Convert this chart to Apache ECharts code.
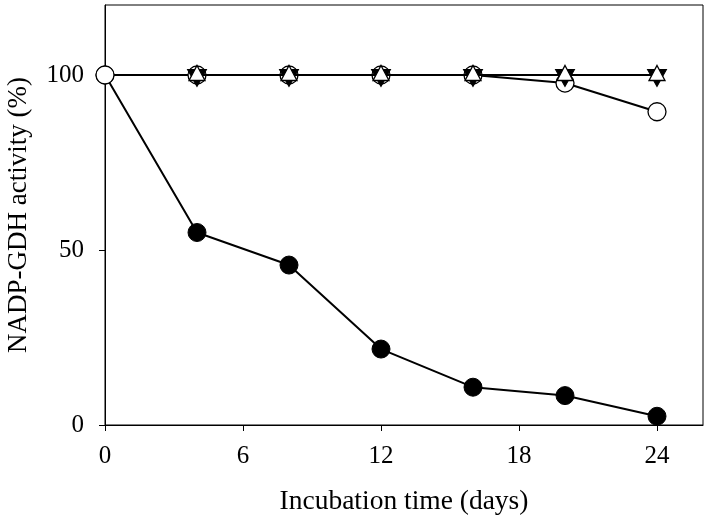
<!DOCTYPE html>
<html><head><meta charset="utf-8">
<script src="https://cdn.jsdelivr.net/npm/echarts@6/dist/echarts.min.js"></script>
<style>html,body{margin:0;padding:0;background:#fff}#c{width:710px;height:524px}</style>
</head><body><div id="c"></div>
<script>
var days = [0, 4, 8, 12, 16, 20, 24];
var filledCircle = [100, 55, 45.7, 21.7, 10.8, 8.4, 2.5];
var openCircle = [100, 100, 100, 100, 100, 97.7, 89.5];
var triDays = [4, 8, 12, 16, 20, 24];
var downTri = [100, 100, 100, 100, 100, 100];
var upTri = [100, 100, 100, 100, 100, 100];
var xTicks = [0, 6, 12, 18, 24];
var yTicks = [0, 50, 100];

function pairs(xs, ys) { return xs.map(function (x, i) { return [x, ys[i]]; }); }
var font = 'Liberation Serif';
var chart = echarts.init(document.getElementById('c'));
chart.setOption({
  animation: false,
  grid: { left: 105, right: 7, top: 5, bottom: 99, show: true, borderColor: '#000', borderWidth: 1,
          containLabel: false, outerBoundsMode: 'none' },
  xAxis: {
    type: 'value', min: 0, max: 26,
    name: 'Incubation time (days)', nameLocation: 'middle', nameGap: 63,
    nameTextStyle: { fontFamily: font, fontSize: 27.5, color: '#000' },
    axisLine: { show: true, onZero: false, lineStyle: { color: '#000', width: 1 } },
    axisTick: { show: true, length: 6, customValues: xTicks, lineStyle: { color: '#000' } },
    axisLabel: { customValues: xTicks, margin: 19, fontFamily: font, fontSize: 25, color: '#000' },
    splitLine: { show: false }
  },
  yAxis: {
    type: 'value', min: 0, max: 120,
    name: 'NADP-GDH activity (%)', nameLocation: 'middle', nameGap: 73,
    nameTextStyle: { fontFamily: font, fontSize: 27, color: '#000' },
    axisLine: { show: true, onZero: false, lineStyle: { color: '#000', width: 1 } },
    axisTick: { show: true, length: 6, customValues: yTicks, lineStyle: { color: '#000' } },
    axisLabel: { customValues: yTicks, margin: 21, fontFamily: font, fontSize: 25, color: '#000' },
    splitLine: { show: false }
  },
  series: [
    { type: 'line', data: pairs(days, filledCircle), symbol: 'circle', symbolSize: 18,
      lineStyle: { color: '#000', width: 2 }, itemStyle: { color: '#000', borderColor: '#000', borderWidth: 1 }, z: 2 },
    { type: 'line', data: pairs(days, openCircle), symbol: 'circle', symbolSize: 18,
      lineStyle: { color: '#000', width: 2 }, itemStyle: { color: '#fff', borderColor: '#000', borderWidth: 1.3 }, z: 3 },
    { type: 'line', data: pairs(triDays, downTri), symbol: 'triangle', symbolRotate: 180, symbolSize: [19, 17], symbolOffset: [0, 3],
      lineStyle: { color: '#000', width: 2 }, itemStyle: { color: '#000', borderColor: '#000', borderWidth: 1 }, z: 4 },
    { type: 'line', data: pairs(triDays, upTri), symbol: 'triangle', symbolSize: [16, 15], symbolOffset: [0, -2],
      lineStyle: { color: '#000', width: 2 }, itemStyle: { color: '#fff', borderColor: '#000', borderWidth: 1.3 }, z: 5 }
  ]
});
</script></body></html>
